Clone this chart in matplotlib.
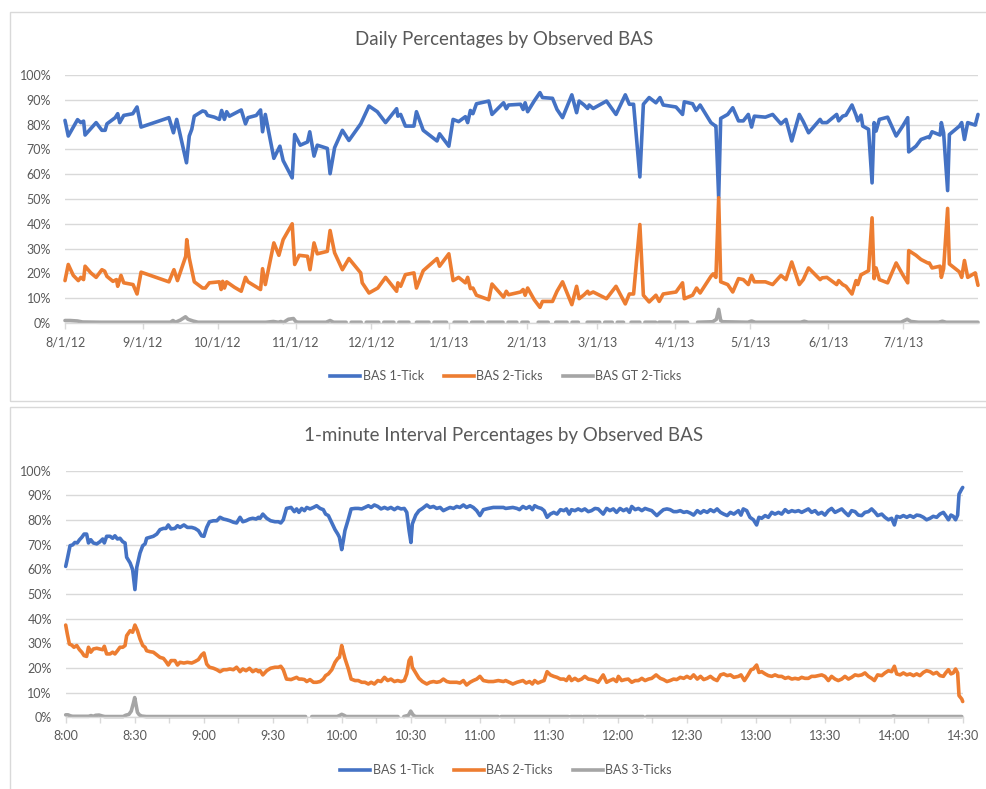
import numpy as np
import pandas as pd
import matplotlib
matplotlib.use("Agg")
from matplotlib import pyplot as plt
from matplotlib.patches import Rectangle
from matplotlib.lines import Line2D

plt.rcParams['font.family'] = ['Lato', 'DejaVu Sans']

# Datos: gráfico diario (día desde 8/1/12, porcentaje)
# ========================================
base_date = pd.Timestamp("2012-08-01")

daily_1tick_day = [0, 1.3, 5, 6.3, 7.4, 8, 12.4, 14.7, 16, 16.7, 20, 21, 21.8, 23.4, 27, 28.7, 30.3,
                   41.4, 43.2, 44.5, 46, 48.4, 49.5, 50.5, 51.5, 54.8, 55.9, 56.8, 59.5, 61.5, 62.4,
                   63.5, 64.4, 65.5, 70.2, 71.9, 72.9, 76.2, 77.9, 78.7, 79.8, 83.2, 85.6, 86.9, 90.5,
                   91.5, 93.7, 96.6, 97.5, 99.2, 100.5, 104.5, 105.6, 107.4, 110.5, 113.1, 117.8,
                   121.1, 124.4, 127.7, 132.1, 132.6, 133.7, 135.6, 139, 140, 142.7, 148.2, 149.2,
                   152.9, 154.6, 156.8, 159.5, 160.4, 161.5, 162.5, 163.9, 168.8, 170.1, 174.7, 175.8,
                   176.7, 181.5, 182.5, 183.3, 184.3, 186.9, 189.2, 190.2, 194.2, 196, 198.2, 201.9,
                   203.8, 204.8, 206.8, 208.2, 208.8, 210.4, 215.7, 219.5, 223.2, 224.8, 226.5, 229,
                   230.4, 232.7, 235.4, 237, 238.3, 243.4, 246, 246.7, 250, 251.4, 253, 257.3, 258.6,
                   259.3, 260.4, 261.2, 264, 266, 268.3, 270.2, 272.2, 273.5, 274.6, 279, 281.9, 285.2,
                   287.2, 289.5, 292.5, 294.1, 296.2, 300.8, 301.6, 303.5, 307.4, 308.2, 309.8, 311.1,
                   313.5, 315.1, 315.8, 317.1, 317.8, 320.1, 321.5, 322.3, 323.1, 324.4, 327.7, 331.1,
                   333.7, 335.7, 336.1, 339, 341, 343.7, 344.3, 345.4, 348.6, 349.1, 350, 351.6, 352.3,
                   356.3, 357.2, 358.3, 359.6, 362.6, 363.7]
daily_1tick_val = [81.7, 75.4, 82, 80.8, 81.4, 75.8, 80.8, 77.7, 77.7, 80.3, 82.8, 84.4, 80.8, 83.7, 84.4, 87.1, 79,
                   82.8, 76.7, 82.1, 75.4, 64.6, 75.4, 78.1, 83.4, 85.5, 85.2, 83.7, 83, 82.1, 85.7,
                   82.1, 85.2, 83.4, 85.9, 80.3, 82.8, 83.7, 85.9, 77.1, 84.1, 66.4, 71.3, 65.5, 58.5,
                   76, 71.7, 73, 77.1, 67.3, 71.7, 70.4, 60.2, 70.7, 77.7, 73.6, 80.3,
                   87.5, 85.2, 80.8, 86.4, 83.4, 84.1, 79.4, 79.4, 85.2, 77.7, 73.4, 76.3,
                   71.3, 82.1, 81.2, 83.2, 80.8, 85.7, 84.4, 88.4, 89.5, 84.1, 88.8, 86.4,
                   87.9, 88.2, 86.1, 88.8, 85.2, 89.5, 92.9, 90.9, 90.6, 86.1, 82.8, 92,
                   84.8, 89.5, 87.9, 86.5, 87.9, 86.5, 89.5, 84.1, 92, 88.2, 88.2, 58.9,
                   88.2, 90.9, 88.8, 90.9, 87.9, 87.1, 84.1, 89.2, 88.4, 85.7, 87.9, 80.8, 79.8,
                   79.4, 50.5, 82.5, 84.1, 86.8, 81.5, 81.5, 84.1, 79, 83.4, 83, 84.1, 80.3,
                   82.1, 73.4, 84.1, 81.2, 76.7, 82.1, 80.8, 80.8, 84.1, 81.5, 83.4, 83.8,
                   87.9, 83.8, 81.5, 83.8, 79.4, 78.1, 56.5, 80.8, 77.4, 82.1, 83, 75.4,
                   79.4, 82.8, 69, 71.3, 74, 75, 74.7, 77.1, 75.8, 80.8, 76.7, 53.4, 76,
                   79.4, 80.8, 74, 80.8, 79.8, 84.1]

daily_2ticks_day = [0, 1.3, 3.3, 5.3, 6.3, 7.4, 8, 10.3, 12.4, 14.7, 15.8, 16.7, 19.1, 20.5, 21, 22.3, 23.4,
                    27.1, 28.7, 30.3, 41.4, 43.4, 44.8, 48.1, 48.5, 49.5, 51.5, 54.8, 55.9, 57.5, 61.5,
                    62.2, 62.8, 63.5, 64.4, 67.5, 70.2, 71.9, 72.9, 77.9, 78.7, 79.8, 83.2, 85.2, 86.9,
                    90.5, 91.5, 93.3, 96.6, 97.6, 99.2, 100.5, 104.5, 105.6, 107.4, 110.5, 113.1, 117.8,
                    118.4, 121.1, 124.6, 127.7, 132.1, 132.6, 133.7, 135.6, 139, 140, 142.7, 148.2,
                    149.2, 152.9, 154.6, 156.8, 159.5, 160.4, 161.5, 162.5, 163.9, 168.8, 170.1, 174.7,
                    175.8, 176.7, 181.5, 182.5, 183.3, 184.3, 186.9, 189.2, 190.2, 194.2, 196, 198.2,
                    201.9, 203.8, 204.8, 206.8, 208.2, 208.8, 210.4, 215.7, 219.5, 223.2, 224.8, 226.5,
                    229, 230.4, 232.7, 235.4, 236.7, 238.3, 243.4, 246, 246.7, 250, 251.6, 253, 257.3,
                    258.2, 259.3, 260.4, 261.2, 264, 266, 268.3, 270.2, 272.2, 273.5, 274.6, 279, 281.9,
                    285.2, 287.2, 289.5, 292.5, 294.1, 296.2, 300.8, 301.6, 303.5, 307.4, 308.2, 309.8,
                    311.1, 313.5, 315.1, 315.8, 317.1, 317.8, 320.1, 321.5, 322.3, 323.1, 324.4, 327.7,
                    331.1, 333.7, 335.7, 336.1, 339, 341, 343.7, 344.3, 345.4, 348.6, 349.1, 350, 351.6,
                    352.3, 356.3, 357.2, 358.3, 359.6, 362.6, 363.7]
daily_2ticks_val = [17.1, 23.6, 19.2, 17.1, 18.4, 17.5, 22.9, 20.2, 18.4, 21.5, 20.9, 18.8, 16.8, 17.5, 14.8, 19.2, 16.2,
                    15.5, 11.7, 20.5, 16.6, 21.5, 17.1, 26.9, 33.6, 26.2, 16.6, 14.1, 14.1, 16.2, 16.6,
                    13.5, 16.8, 14.1, 16.6, 14.4, 12.8, 18.4, 16.6, 13.5, 21.9, 15.5, 32.3, 27.3, 33.6,
                    40, 23.6, 27.3, 26.9, 21.5, 32.3, 27.9, 28.9, 37.3, 28.3, 21.5, 26, 20.2,
                    16.2, 12.1, 14.1, 18.4, 12.8, 16.2, 14.8, 19.5, 20.2, 14.1, 21.1, 26,
                    22.9, 27.9, 17.1, 18.4, 16.2, 18.4, 13.9, 14.1, 11.2, 9.4, 15.7, 10.4,
                    12.8, 11.4, 12.5, 13.5, 11.2, 14.1, 9.4, 6.3, 8.7, 8.7, 12.8, 16.6,
                    7.4, 14.8, 9.8, 11.4, 12.8, 11.7, 12.5, 9.8, 14.8, 7.7, 11.7, 11.7,
                    39.7, 11.2, 8.5, 11.2, 8.7, 11.7, 12.5, 16.2, 9.8, 11.2, 14.1, 12.1, 18.8,
                    19.8, 18.4, 50.5, 16.6, 15.5, 12.5, 17.9, 17.5, 15.5, 19.2, 16.6, 16.6, 15.5,
                    19.2, 17.5, 24.6, 15.5, 17.5, 22.2, 17.5, 18.2, 18.4, 15.5, 17.1, 15.5,
                    14.8, 11.7, 17.1, 15.5, 19.5, 19.8, 21.1, 42.4, 17.9, 22.2, 17.5, 16.2,
                    24.2, 19.5, 16.2, 29.2, 27.3, 25.6, 24.2, 24.2, 22.2, 22.9, 18.4, 21.9, 46.2,
                    23.8, 20.6, 18.4, 25.2, 18.4, 20.2, 15.2]

nan = np.nan
daily_gt2_day = [0, 2, 5, 7, 14, 30, 42, 43, 44, 46, 48, 49, 51, 53, 80, 83, 85, 86, 87, 89, 91, 92, 93,
                 104, 105.6, 107, 112, 113, 114, 118, 119, 120, 125, 126, 127, 131, 132, 133, 137,
                 138.5, 140, 145, 146, 147, 152, 153.5, 155, 160, 161, 162, 166.5, 167.5, 168.5,
                 174.5, 175.5, 176.5, 180, 181, 182, 184.5, 186.5, 188.5, 192.5, 194, 195.5, 200,
                 201, 202, 204.5, 206, 208, 213, 214, 215, 218, 219, 220, 222.5, 224, 225.5, 229,
                 230, 231, 235.3, 236, 236.6, 241, 242, 243, 248, 250, 252, 258, 259.5,
                 260.4, 261.2, 262, 272, 273.5, 275, 293, 294.5, 296, 333, 335.5, 337, 340, 348,
                 349.5, 351, 363.7]
daily_gt2_val = [1.0, 1.0, 0.8, 0.4, 0.3, 0.3, 0.3, 1.0, 0.3, 1.2, 2.5, 1.5, 0.8, 0.3, 0.3, 0.6, 0.3, 0.6, 0.2, 1.5, 1.8, 0.5, 0.3,
                 0.3, 1.0, 0.3, 0.3, nan, 0.3, 0.3, nan, 0.3, 0.3, nan, 0.3, 0.3, nan, 0.3, 0.3,
                 nan, 0.3, 0.3, nan, 0.3, 0.3, nan, 0.3, 0.3, nan, 0.3, 0.3, nan, 0.3,
                 0.3, nan, 0.3, 0.3, nan, 0.3, 0.3, nan, 0.3, 0.3, nan, 0.3, 0.3,
                 nan, 0.3, 0.3, nan, 0.3, 0.3, nan, 0.3, 0.3, nan, 0.3, 0.3, nan, 0.3, 0.3,
                 nan, 0.3, 0.3, nan, 0.3, 0.3, nan, 0.3, 0.3, nan, 0.3, 0.5, 1.5,
                 5.5, 1.0, 0.5, 0.3, 0.8, 0.3, 0.3, 0.7, 0.3, 0.3, 1.5, 0.6, 0.3, 0.3,
                 0.7, 0.3, 0.3]

daily_month_labels = ["8/1/12", "9/1/12", "10/1/12", "11/1/12", "12/1/12", "1/1/13",
                      "2/1/13", "3/1/13", "4/1/13", "5/1/13", "6/1/13", "7/1/13"]

# Datos: gráfico por minuto (minutos desde 8:00, porcentaje)
# ========================================
minute_1tick_min = [0, 0.7, 1.9, 3, 4, 5, 6, 7, 8, 9.1, 9.9, 10.9, 12, 13.5, 14.9, 16.1, 16.8, 17.8, 19.3,
                    20.4, 21.4, 22.5, 23.6, 24.8, 25.8, 26.5, 28, 29.1, 30.1, 30.9, 32.3, 33.5, 34.5, 35.2,
                    36.7, 38.1, 39.6, 41, 42.5, 43.6, 44.6, 45.8, 47.5, 48.6, 49.7, 51.4, 52.9, 54.8, 56.2,
                    57.7, 59.1, 60.1, 61.3, 62.5, 64.2, 65.7, 67.1, 68.6, 70, 71.4, 72.9, 74.3, 75.8, 77,
                    78.4, 79.9, 81.3, 82.8, 83.8, 84.5, 85.7, 87.4, 89.1, 91, 92.5, 93.5, 94.6, 96, 98,
                    99.4, 100.4, 101.4, 102.6, 103.8, 104.8, 106.2, 107.7, 109.1, 110.6, 112, 113, 114.2,
                    115.7, 117.1, 118.3, 119, 120, 120.7, 121.4, 122.9, 124.1, 125.8, 127.2, 128.7, 130.1,
                    131.6, 132.8, 134.2, 135.7, 137.1, 138.6, 140, 141.4, 142.9, 144.3, 145.8, 147.2,
                    148.3, 149.3, 150.1, 150.7, 152.2, 153.6, 155.1, 157, 158.4, 159.9, 161.3, 162.8,
                    164.2, 165.7, 167.1, 168.6, 170, 171.4, 172.9, 174.3, 175.8, 177.2, 178.7, 180.1,
                    181.6, 183.8, 185.9, 188.1, 190.3, 191.3, 194.4, 196.2, 197.3, 198.8, 200.2, 201.7,
                    202.9, 203.9, 205.3, 206.8, 208, 209.3, 210.7, 212.2, 213.6, 215.1, 216.6, 217.7,
                    218.9, 219.9, 221.4, 222.8, 224.3, 225.7, 227.2, 228.6, 230.1, 231.5, 233.7, 235.2,
                    236.6, 238.1, 239.5, 241, 242.5, 243.9, 245.1, 246.1, 247.6, 249, 250.5, 251.9,
                    253.4, 254.8, 255.9, 257, 258.5, 259.9, 261.4, 262.8, 264.3, 265.7, 267.2, 268.7,
                    270.1, 271.6, 273, 274.6, 276, 277.4, 278.9, 280.3, 281.8, 283.2, 284.7, 286.1,
                    287.6, 289, 290.5, 292.5, 293.6, 294.6, 296.1, 297.5, 299, 300.4, 301.4, 302.6,
                    304.1, 305.5, 307, 308.4, 309.9, 311.3, 312.8, 314.2, 315.7, 317.1, 318.6, 320,
                    321.4, 322.9, 324.3, 325.8, 327.2, 328.7, 330.1, 331.6, 333, 334.5, 335.9, 337.4,
                    338.8, 340.3, 341.7, 343.2, 344.6, 346.1, 347.5, 349, 350.4, 351.9, 353, 354.8,
                    356.2, 357.7, 359.1, 360.3, 361.3, 362.8, 364.2, 365.7, 367.1, 368.6, 370, 371.4,
                    372.9, 374.3, 375.8, 377.2, 378.7, 380.1, 381.6, 382.6, 383.8, 384.9, 385.9, 386.9,
                    387.8, 388.4, 389.6, 390]
minute_1tick_val = [61.2, 64.2, 69.6, 69.9, 70.9, 70.7, 72, 73, 74.3, 74.3, 70.7, 72, 70.7, 70.3, 71.2, 72.3, 70.7, 73.4, 73.4,
                    72.6, 73.6, 72.3, 72.6, 71.2, 70.7, 64.9, 62.6, 59.9, 51.8, 60.8, 66.6, 69.6, 70.3, 72.6,
                    73, 73.4, 74.3, 76.1, 76.6, 76.6, 78, 76.4, 76.6, 77.7, 77, 78, 77, 77, 76.6,
                    75.7, 73.6, 73.4, 77, 79.3, 79.7, 79.7, 81.1, 80.4, 80.1, 79.7, 79.1, 78.8, 81.1, 79.3,
                    79.7, 80.4, 80.7, 80.4, 81.1, 80.7, 82.4, 80.7, 79.7, 79.3, 79.3, 78.8, 80.1, 84.7, 85.1,
                    83.4, 84.5, 83.1, 84.7, 83.8, 85.1, 84.5, 85.1, 85.8, 84.7, 84.2, 82.4, 81.8,
                    78.8, 76.1, 74.3, 73, 68, 71.6, 75.7, 80.4, 84.5, 84.7, 84.7, 84.5, 85.1,
                    85.8, 85.1, 86.1, 85.5, 84.5, 85.1, 84.5, 85.1, 84.2, 85.1, 84.5, 84.7,
                    83.1, 75.7, 70.9, 78.4, 82, 83.8, 84.7, 86.1, 85.1, 85.5, 84.7, 85.1,
                    83.8, 84.5, 85.1, 84.7, 85.5, 85.1, 86.1, 85.1, 85.8, 85.1, 83.8, 81.8,
                    84.2, 84.7, 85.1, 85.1, 85.1, 84.7, 85.1, 84.7, 84.2, 85.5, 84.7, 85.5,
                    84.2, 85.8, 85.1, 84.7, 83.8, 81.1, 82.4, 83.1, 82.4, 84.2, 83.8, 84.5,
                    82.4, 84.2, 83.8, 84.5, 83.8, 84.5, 83.4, 83.8, 84.7, 84.5, 82.4, 84.7,
                    83.8, 84.5, 83.1, 84.7, 83.8, 84.5, 83.1, 85.5, 84.2, 84.7, 83.8, 84.7,
                    84.2, 83.8, 82.8, 81.8, 83.1, 84.2, 84.5, 84.2, 83.4, 83.4, 83.8, 83.1,
                    83.4, 82.8, 82, 83.8, 82.8, 83.8, 83.1, 84.2, 83.4, 84.5, 83.1, 82.4,
                    81.8, 83.1, 82.4, 83.8, 82, 84.5, 83.8, 81.1, 80.1, 78, 81.1, 80.7,
                    81.8, 81.1, 83.1, 82.4, 83.1, 82.4, 84.2, 83.1, 83.8, 83.4, 83.8, 83.1,
                    83.8, 84.5, 83.1, 83.8, 82.4, 83.1, 82, 83.8, 84.7, 83.1, 83.8, 84.5,
                    83.1, 81.8, 83.8, 83.4, 82, 81.8, 83.1, 83.4, 84.5, 83.1, 81.8, 82.4,
                    81.1, 80.1, 80.7, 78, 81.5, 81.1, 81.8, 81.1, 81.8, 81.1, 82, 81.8,
                    81.1, 80.1, 80.7, 81.5, 81.1, 82.4, 83.1, 81.8, 80.1, 82, 81.5, 80.1,
                    82, 90.5, 92.6, 93.2]

minute_2ticks_min = [0, 0.7, 1.6, 2.6, 3.6, 4.8, 6, 7, 8, 9.1, 9.9, 10.9, 12, 13.5, 14.9, 16.1, 16.8, 17.8,
                     19.3, 20.4, 21.4, 22.5, 23.6, 24.8, 25.8, 26.5, 28, 29.1, 30.1, 31.2, 32.3, 33.5, 34.5,
                     35.2, 36.7, 38.1, 39.6, 41, 42.5, 43.6, 44.6, 45.8, 47.5, 48.6, 49.7, 51.4, 52.9, 54.8,
                     56.2, 57.7, 59.1, 60.1, 61.3, 62.5, 64.2, 65.7, 67.1, 68.6, 70, 71.4, 72.9, 74.3, 75.8,
                     77, 78.4, 79.9, 81.3, 82.8, 83.8, 84.5, 85.7, 87.4, 89.1, 91, 92.5, 93.5, 94.6, 96, 98,
                     99.4, 100.4, 101.4, 102.6, 103.8, 104.8, 106.2, 107.7, 109.1, 110.6, 112, 113, 114.2,
                     115.7, 117.1, 118.3, 119, 120, 120.7, 121.4, 122.9, 124.1, 125.8, 127.2, 128.7, 130.1,
                     131.6, 132.8, 134.2, 135.7, 137.1, 138.6, 140, 141.4, 142.9, 144.3, 145.8, 147.2,
                     148.3, 149.3, 150.1, 150.7, 152.2, 153.6, 155.1, 157, 158.4, 159.9, 161.3, 162.8,
                     164.2, 165.7, 167.1, 168.6, 170, 171.4, 172.9, 174.3, 175.8, 177.2, 178.7, 180.1,
                     181.6, 183.8, 185.9, 188.1, 190.3, 191.3, 194.4, 196.2, 197.3, 198.8, 200.2, 201.7,
                     202.9, 203.9, 205.3, 206.8, 208, 209.3, 210.7, 212.2, 213.6, 215.1, 216.6, 217.7,
                     218.9, 219.9, 221.4, 222.8, 224.3, 225.7, 227.2, 228.6, 230.1, 231.5, 233.7, 235.2,
                     236.6, 238.1, 239.5, 240.3, 241.7, 243.2, 244.6, 246.1, 247.6, 249, 250.5, 251.9,
                     253.4, 254.8, 256.7, 258.5, 259.9, 261.4, 262.8, 264.3, 265.7, 267.2, 268.7, 270.1,
                     271.6, 273, 274.6, 276, 277.4, 278.9, 280.3, 281.8, 283.2, 284.7, 286.1, 287.6, 289,
                     290.5, 292.5, 293.6, 295.1, 296.5, 298, 299, 300.4, 301.4, 302.6, 304.1, 305.5, 307,
                     308.4, 309.9, 311.3, 312.8, 314.2, 315.7, 317.1, 318.6, 320, 321.4, 322.9, 324.3,
                     325.8, 327.2, 328.7, 330.1, 331.6, 333, 334.5, 335.9, 337.4, 338.8, 340.3, 341.7,
                     343.2, 344.6, 346.1, 347.5, 349, 350.4, 351.6, 353, 354.8, 356.2, 357.7, 359.1, 360.3,
                     361.3, 362.8, 364.2, 365.7, 367.1, 368.6, 370, 371.4, 372.9, 374.3, 375.8, 377.2,
                     378.7, 380.1, 381.6, 382.6, 383.8, 384.9, 385.9, 386.9, 387.8, 388.4, 389.6, 390]
minute_2ticks_val = [37.4, 33.8, 29.7, 29.3, 28.4, 29.1, 27.4, 26.4, 25, 24.7, 28.4, 26.4, 27.7, 28, 27.7, 27.4, 28.8, 25.7,
                     25.7, 26.4, 25.7, 27, 28.4, 28.4, 29.1, 33.1, 35.1, 34.5, 37.4, 35.1, 31.8, 29.1, 28.4,
                     27, 26.6, 26.4, 25.3, 24.3, 23.9, 22.6, 21.2, 23, 23, 21.2, 22.3, 22, 22.3, 22,
                     22.6, 23.4, 25.3, 26.1, 21.6, 20.3, 19.9, 19.3, 18.5, 19.3, 19.3, 19.6, 19.3, 20.3, 18.5,
                     19.6, 18.9, 19.9, 18.5, 19.3, 18.5, 18.9, 17.2, 18.9, 19.9, 20.3, 20.3, 20.7, 19.3, 15.5, 15.3,
                     15.8, 16.2, 15.5, 15.5, 15.3, 14.5, 15.3, 14.2, 14.2, 14.5, 15.5, 16.9, 17.6,
                     19.3, 22.3, 23.9, 24.3, 29.1, 26.4, 23.9, 19.6, 15.5, 14.9, 14.9, 14.2, 14.2,
                     13.5, 14.2, 13.5, 14.9, 14.5, 16.2, 14.9, 15.5, 14.5, 14.9, 14.5, 14.9,
                     17.6, 23, 24.3, 20.3, 18, 15.8, 14.5, 13.5, 14.2, 14.5, 14.2, 14.5,
                     15.5, 14.5, 14.2, 14.2, 14.2, 13.9, 14.9, 13.1, 14.2, 14.9, 15.5, 16.6,
                     14.9, 14.5, 14.5, 14.9, 14.5, 14.9, 13.5, 14.2, 14.5, 14.9, 13.9, 14.5,
                     13.5, 14.9, 13.9, 14.5, 14.9, 18.5, 17.2, 16.6, 16.2, 15.5, 15.5, 14.9,
                     16.6, 14.9, 15.8, 14.9, 15.5, 16.6, 15.5, 15.3, 14.9, 14.2, 17.2, 14.2,
                     14.9, 15.5, 14.5, 16.6, 14.9, 15.3, 15.5, 14.2, 14.9, 14.9, 15.8, 14.9,
                     15.5, 15.8, 17.2, 15.8, 15.3, 14.5, 14.9, 15.5, 15.3, 16.2, 15.8, 16.6,
                     15.8, 17.2, 15.5, 16.6, 15.3, 15.8, 16.6, 15.5, 14.9, 17.2, 17.6, 16.9, 17.2,
                     16.2, 16.6, 17.2, 14.9, 16.9, 19.3, 19.6, 21.2, 18.2, 18.5, 17.6, 16.9, 16.6,
                     17.2, 16.6, 16.6, 15.8, 16.2, 15.5, 15.8, 15.5, 16.2, 15.8, 15.8, 16.6,
                     16.6, 16.9, 17.2, 16.6, 14.9, 16.6, 15.5, 14.9, 15.5, 16.6, 15.5, 16.2,
                     17.2, 16.9, 17.2, 18, 16.6, 15.8, 14.9, 17.2, 16.9, 18, 18.9, 18.5, 20.7,
                     17.6, 17.2, 18, 17.2, 17.6, 16.9, 17.6, 16.9, 18.2, 18.9, 18.5, 17.6,
                     18.2, 16.9, 16.6, 18, 19.3, 17.6, 18, 19.6, 18, 8.8, 7.4, 6.4]

minute_3ticks_min = [0, 1, 2, 3, 10, 11, 12, 13, 14.5, 16, 17, 25, 26, 27.5, 28.5, 29.5, 30, 30.6, 31.2, 32,
                     33, 35, 104.3, 105.5, 107, 118, 119, 120, 121, 122, 144.5, 145.8, 147, 149, 150, 151,
                     152, 188, 188.6, 189.3, 218.5, 219, 219.6, 224.3, 224.7, 225, 230.6, 231, 231.6,
                     251.1, 252, 252.6, 359, 360, 361, 389.6]
minute_3ticks_val = [1.0, 1.0, 0.6, 0.4, 0.4, 0.7, 0.4, 0.8, 0.9, 0.5, 0.3, 0.3, 0.8, 1.2, 2.5, 6, 8, 5, 2, 1,
                     0.5, 0.3, 0.3, nan, 0.3, 0.3, 0.7, 1.2, 0.8, 0.3, 0.3, nan, 0.3, 0.8, 2.5, 1.0,
                     0.3, 0.3, nan, 0.3, 0.3, nan, 0.3, 0.3, nan, 0.3, 0.3, nan, 0.3,
                     0.3, nan, 0.3, 0.3, 0.6, 0.3, 0.3]

minute_labels = ["8:00", "8:30", "9:00", "9:30", "10:00", "10:30", "11:00", "11:30", "12:00",
                 "12:30", "13:00", "13:30", "14:00", "14:30"]

# Estilo
# ========================================
W, H = 986, 789
c_blue, c_orange, c_gray = "#4472C4", "#ED7D31", "#A5A5A5"
c_grid = "#D9D9D9"
c_text = "#595959"
lw = 2.6
tick_fs = 9
title_fs = 13.5

fig = plt.figure(figsize=(W / 100, H / 100), dpi=100)

# Marcos de los dos gráficos
for y0, y1 in [(11.5, 401), (407, 800)]:
    fig.patches.append(Rectangle((10 / W, 1 - y1 / H), 990 / W, (y1 - y0) / H,
                                 transform=fig.transFigure, fill=False,
                                 edgecolor=c_grid, linewidth=1))


def style_axes(ax):
    for s in ["top", "right", "left"]:
        ax.spines[s].set_visible(False)
    ax.spines["bottom"].set_color(c_grid)
    ax.spines["bottom"].set_linewidth(1)
    ax.set_ylim(0, 100)
    ax.set_yticks(range(0, 101, 10))
    ax.set_yticklabels([f"{v}%" for v in range(0, 101, 10)])
    ax.yaxis.grid(True, color=c_grid, linewidth=1)
    ax.set_axisbelow(True)
    ax.tick_params(axis="y", length=0, pad=10, labelsize=tick_fs, labelcolor=c_text)
    ax.tick_params(axis="x", which="both", length=4.5, width=1, color=c_grid, pad=5,
                   labelsize=tick_fs, labelcolor=c_text)


def draw(ax, x, y, color):
    ax.plot(x, y, color=color, lw=lw, solid_joinstyle="round", solid_capstyle="round",
            clip_on=False)


# Gráfico diario
# ========================================
ax1 = fig.add_axes([65 / W, 1 - 323 / H, (978 - 65) / W, (323 - 75) / H])
style_axes(ax1)
draw(ax1, daily_1tick_day, daily_1tick_val, c_blue)
draw(ax1, daily_2ticks_day, daily_2ticks_val, c_orange)
draw(ax1, daily_gt2_day, daily_gt2_val, c_gray)
ax1.set_xlim(0, 363.7)
month_pos = [(pd.to_datetime(lbl, format="%m/%d/%y") - base_date).days for lbl in daily_month_labels]
ax1.set_xticks(month_pos)
ax1.set_xticklabels(daily_month_labels)
fig.text(504 / W, 1 - 40 / H, "Daily Percentages by Observed BAS", ha="center", va="center",
         fontsize=title_fs, color=c_text)

# Gráfico por minuto
# ========================================
ax2 = fig.add_axes([65.7 / W, 1 - 717.3 / H, (962.7 - 65.7) / W, (717.3 - 470.7) / H])
style_axes(ax2)
draw(ax2, minute_1tick_min, minute_1tick_val, c_blue)
draw(ax2, minute_2ticks_min, minute_2ticks_val, c_orange)
draw(ax2, minute_3ticks_min, minute_3ticks_val, c_gray)
ax2.set_xlim(0, 390)
ax2.set_xticks(range(0, 391, 30))
ax2.set_xticklabels(minute_labels)
ax2.set_xticks(range(15, 391, 30), minor=True)
fig.text(504 / W, 1 - 436 / H, "1-minute Interval Percentages by Observed BAS", ha="center",
         va="center", fontsize=title_fs, color=c_text)

# Leyendas
# ========================================
def legend(names, ycenter):
    handles = [Line2D([], [], color=c, lw=lw) for c in (c_blue, c_orange, c_gray)]
    fig.legend(handles, names, loc="center", bbox_to_anchor=(506 / W, 1 - ycenter / H),
               ncol=3, frameon=False, fontsize=tick_fs, labelcolor=c_text,
               handlelength=2.4, handletextpad=0.2, columnspacing=1.6, borderaxespad=0)

legend(["BAS 1-Tick", "BAS 2-Ticks", "BAS GT 2-Ticks"], 376)
legend(["BAS 1-Tick", "BAS 2-Ticks", "BAS 3-Ticks"], 770)

fig.savefig("out.png", dpi=100)
